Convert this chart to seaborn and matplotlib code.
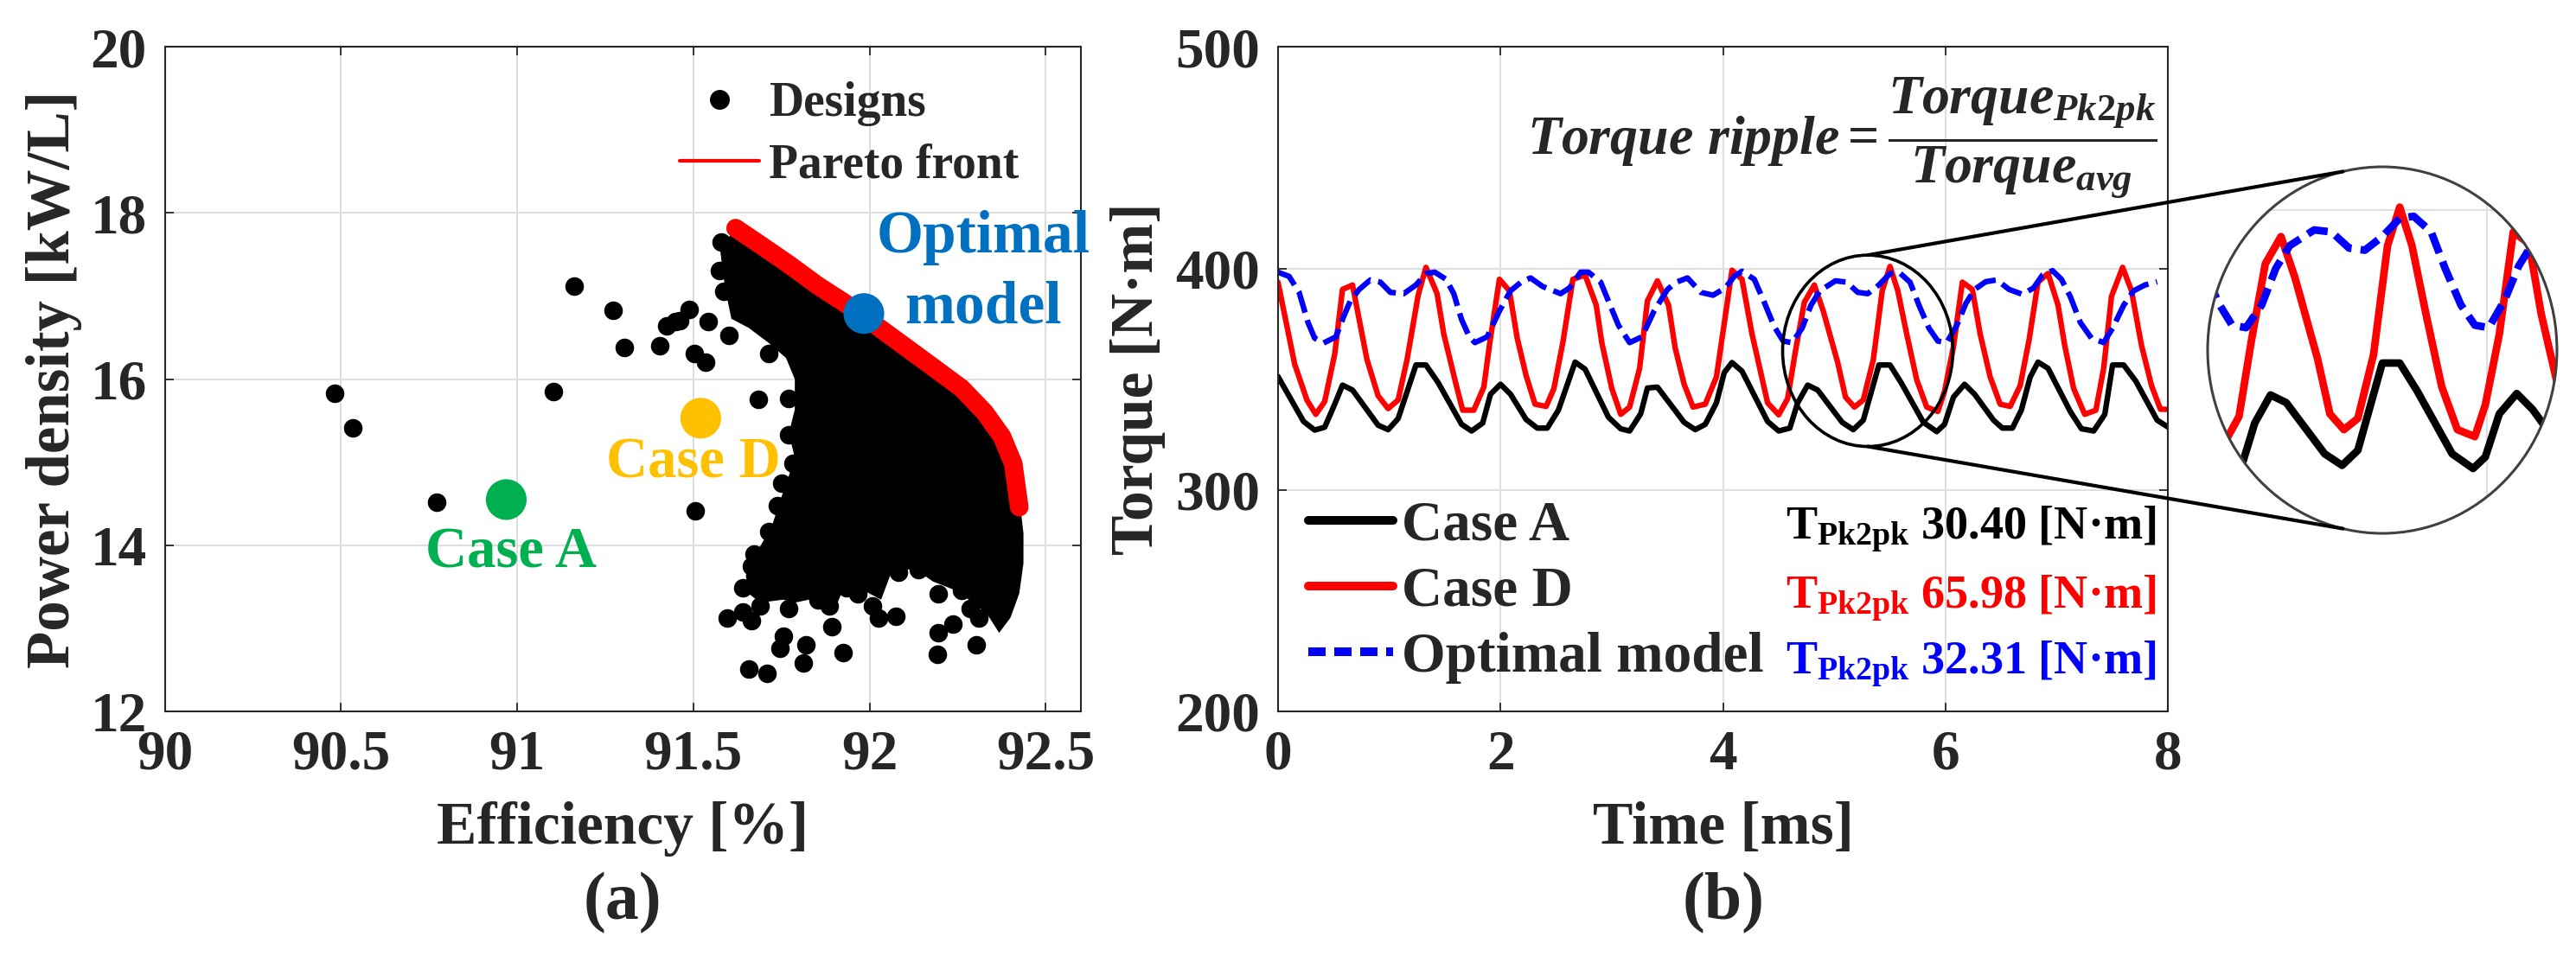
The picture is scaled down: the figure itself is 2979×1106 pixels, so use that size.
# -*- coding: utf-8 -*-
import numpy as np
import pandas as pd
import matplotlib.pyplot as plt
import seaborn as sns
from matplotlib.lines import Line2D
from matplotlib.patches import Ellipse, ConnectionPatch

sns.set_style("whitegrid")
plt.rcParams['font.family'] = ['Liberation Serif', 'DejaVu Serif']
plt.rcParams['font.weight'] = 'bold'
plt.rcParams['mathtext.fontset'] = 'custom'
plt.rcParams['mathtext.rm'] = 'Liberation Serif:bold'
plt.rcParams['mathtext.it'] = 'Liberation Serif:italic:bold'
plt.rcParams['mathtext.bf'] = 'Liberation Serif:bold'
plt.rcParams['axes.edgecolor'] = '#262626'
plt.rcParams['axes.linewidth'] = 1.5
plt.rcParams['grid.color'] = '#DEDEDE'
plt.rcParams['grid.linewidth'] = 1.4

# ---------------- (a) design space ----------------
# scattered designs (efficiency %, power density kW/L)
designs_eff = [90.481, 90.534, 90.772, 91.161, 91.104, 91.271, 91.305, 91.405, 91.424, 91.448,
               91.579, 91.575, 91.587, 91.489, 91.542, 91.461, 91.600, 91.502, 91.534, 91.714,
               91.685, 91.771, 91.771, 91.783, 91.853, 91.751, 91.828, 91.739, 91.820, 91.714,
               91.788, 91.869, 91.673, 91.755, 91.828, 91.665, 91.641, 91.714, 91.788, 91.869,
               91.690, 91.771, 91.853, 91.935, 91.596, 91.641, 91.665, 91.755, 91.747, 91.820,
               91.812, 91.926, 91.894, 91.886, 91.967, 92.008, 92.025, 92.074, 91.657, 91.710,
               91.506, 92.196, 92.261, 92.196, 92.237, 92.192, 92.302, 92.310, 92.286, 92.016,
               92.082, 92.139, 91.967, 91.902, 91.951]
designs_pd = [15.83, 15.41, 14.52, 17.12, 15.85, 16.83, 16.38, 16.40, 16.64, 16.69,
              17.655, 17.309, 17.055, 16.836, 16.691, 16.709, 16.527, 16.309, 16.200, 16.309,
              15.753, 15.764, 15.327, 14.982, 14.982, 14.745, 14.800, 14.473, 14.473, 14.164,
              14.145, 14.182, 13.891, 13.891, 13.855, 13.745, 13.491, 13.491, 13.636, 13.673,
              13.273, 13.236, 13.345, 13.491, 13.127, 13.200, 13.091, 12.909, 12.764, 12.800,
              12.582, 12.709, 13.018, 13.273, 13.418, 13.273, 13.127, 13.145, 12.509, 12.455,
              14.418, 13.418, 13.455, 12.945, 13.055, 12.691, 12.800, 13.127, 13.236, 13.745,
              13.673, 13.709, 13.600, 13.927, 13.855]

# outline of the dense (overlapping) part of the design cloud
core_eff = [91.608, 91.690, 91.771, 91.853, 91.935, 92.016, 92.098, 92.180, 92.261, 92.327,
            92.376, 92.408, 92.425, 92.437, 92.437, 92.425, 92.400, 92.368,
            92.335, 92.294, 92.245, 92.180, 92.131, 92.065, 92.033, 91.984, 91.935, 91.902,
            91.869, 91.828, 91.788, 91.755, 91.690, 91.657, 91.649, 91.681, 91.722, 91.747,
            91.771, 91.788, 91.771, 91.788, 91.788, 91.763, 91.714, 91.657, 91.608, 91.592,
            91.583, 91.575]
core_pd = [17.745, 17.564, 17.327, 17.073, 16.873, 16.600, 16.345, 16.091, 15.836, 15.545,
           15.255, 14.945, 14.582, 14.145, 13.782, 13.418, 13.127, 12.945,
           13.164, 13.309, 13.455, 13.564, 13.709, 13.709, 13.345, 13.455, 13.564, 13.236,
           13.236, 13.345, 13.309, 13.345, 13.309, 13.418, 13.636, 13.927, 14.218, 14.545,
           14.836, 15.055, 15.345, 15.636, 16.000, 16.255, 16.436, 16.618, 16.727, 17.055,
           17.309, 17.600]

pareto_eff = [91.620, 91.690, 91.771, 91.853, 91.926, 92.016, 92.098, 92.180, 92.261,
              92.327, 92.376, 92.408, 92.425, 92.425]
pareto_pd = [17.818, 17.618, 17.382, 17.127, 16.927, 16.655, 16.400, 16.145, 15.891,
             15.600, 15.309, 14.982, 14.618, 14.300]

case_names = ['Case A', 'Case D', 'Optimal model']
case_eff = [90.969, 91.521, 91.984]
case_pd = [14.55, 15.53, 16.79]
case_colors = ['#00B050', '#FFC000', '#0070C0']

# ---------------- (b) torque waveforms ----------------
t_a = [0.0, 0.23, 0.33, 0.42, 0.51, 0.58, 0.67, 0.90, 0.99, 1.08,
       1.24, 1.33, 1.44, 1.65, 1.74, 1.84, 1.91, 2.0, 2.09, 2.23,
       2.33, 2.42, 2.52, 2.61, 2.67, 2.76, 2.97, 3.08, 3.16, 3.26,
       3.32, 3.41, 3.65, 3.75, 3.84, 3.94, 4.01, 4.08, 4.17, 4.40,
       4.50, 4.60, 4.67, 4.76, 4.85, 5.07, 5.17, 5.26, 5.40, 5.50,
       5.60, 5.80, 5.92, 5.99, 6.07, 6.17, 6.26, 6.43, 6.51, 6.60,
       6.68, 6.76, 6.83, 6.92, 7.12, 7.22, 7.33, 7.43, 7.50, 7.60,
       7.71, 7.90, 8.0]
torque_a = [351.2, 330.9, 327.0, 328.3, 338.7, 347.3, 345.1, 329.2, 327.2, 332.2,
            356.4, 356.4, 348.4, 329.6, 326.6, 330.2, 343.2, 347.7, 343.2, 331.8,
            327.9, 327.9, 336.0, 349.0, 357.7, 354.5, 332.8, 327.6, 326.6, 334.4,
            346.0, 346.4, 330.5, 327.2, 329.6, 339.3, 352.9, 357.5, 353.6, 330.9,
            326.6, 327.9, 339.3, 347.3, 345.1, 330.5, 327.2, 331.5, 356.4, 356.4,
            348.4, 330.5, 326.3, 329.6, 341.9, 347.7, 343.2, 331.5, 327.9, 327.9,
            336.0, 351.0, 357.7, 354.9, 335.4, 327.6, 326.6, 334.1, 356.4, 356.4,
            349.0, 331.5, 328.3]

t_d = [0.0, 0.15, 0.26, 0.34, 0.42, 0.51, 0.58, 0.67, 0.80, 0.90,
       0.99, 1.08, 1.16, 1.26, 1.33, 1.43, 1.49, 1.60, 1.66, 1.76,
       1.85, 1.90, 1.99, 2.08, 2.15, 2.23, 2.31, 2.41, 2.48, 2.56,
       2.65, 2.76, 2.86, 2.91, 3.00, 3.08, 3.16, 3.25, 3.32, 3.41,
       3.51, 3.57, 3.65, 3.73, 3.84, 3.94, 4.01, 4.08, 4.17, 4.26,
       4.40, 4.50, 4.58, 4.65, 4.73, 4.82, 4.90, 5.03, 5.10, 5.18,
       5.26, 5.35, 5.43, 5.50, 5.57, 5.65, 5.74, 5.83, 5.93, 5.99,
       6.07, 6.15, 6.24, 6.31, 6.40, 6.49, 6.58, 6.67, 6.75, 6.83,
       6.92, 7.01, 7.07, 7.15, 7.25, 7.35, 7.42, 7.49, 7.59, 7.67,
       7.76, 7.85, 7.93, 8.0]
torque_d = [393.8, 356.8, 340.6, 334.1, 339.9, 361.3, 390.5, 392.5, 358.8, 342.5,
            336.7, 340.6, 358.8, 387.9, 400.5, 388.6, 370.4, 347.7, 336.0, 336.0,
            346.4, 365.2, 395.1, 389.9, 368.5, 351.6, 338.7, 337.7, 345.8, 366.5,
            395.1, 397.0, 383.4, 366.5, 345.8, 334.1, 337.4, 354.9, 385.3, 394.4,
            383.4, 363.9, 347.7, 337.4, 338.7, 351.0, 375.0, 399.2, 395.1, 370.4,
            339.3, 333.9, 341.2, 362.6, 384.7, 392.5, 380.8, 357.5, 341.9, 337.4,
            340.6, 358.8, 389.9, 400.9, 389.9, 370.4, 349.7, 337.4, 335.4, 344.5,
            364.6, 393.8, 390.5, 370.4, 351.0, 338.7, 337.7, 347.1, 367.8, 393.8,
            397.7, 383.4, 365.2, 345.8, 334.1, 336.0, 354.9, 387.3, 400.5, 389.9,
            365.2, 347.1, 336.4, 336.4]

t_opt = [0.0, 0.10, 0.19, 0.27, 0.33, 0.41, 0.52, 0.59, 0.65, 0.73,
         0.83, 0.92, 1.01, 1.13, 1.24, 1.33, 1.41, 1.51, 1.58, 1.65,
         1.72, 1.77, 1.88, 1.99, 2.09, 2.19, 2.27, 2.38, 2.54, 2.62,
         2.72, 2.79, 2.90, 2.98, 3.06, 3.16, 3.27, 3.38, 3.50, 3.58,
         3.68, 3.80, 3.91, 4.02, 4.10, 4.17, 4.28, 4.37, 4.46, 4.54,
         4.62, 4.71, 4.79, 4.87, 5.01, 5.11, 5.21, 5.30, 5.40, 5.50,
         5.58, 5.68, 5.76, 5.85, 5.93, 6.01, 6.10, 6.18, 6.26, 6.36,
         6.46, 6.57, 6.69, 6.79, 6.87, 6.96, 7.04, 7.12, 7.21, 7.31,
         7.42, 7.50, 7.60, 7.69, 7.79, 7.90]
torque_opt = [398.3, 396.4, 389.2, 375.6, 368.5, 366.3, 369.1, 378.2, 385.3, 390.5,
              394.8, 393.8, 389.2, 388.6, 392.5, 397.7, 398.3, 395.1, 388.6, 376.9,
              369.1, 366.5, 369.1, 380.8, 389.9, 394.0, 395.7, 391.8, 388.6, 391.2,
              398.3, 398.3, 393.8, 384.0, 374.3, 366.5, 369.1, 380.8, 390.5, 393.8,
              395.7, 389.2, 387.9, 391.2, 396.4, 398.7, 395.1, 384.7, 373.7, 367.2,
              366.5, 373.0, 383.4, 389.9, 394.4, 393.8, 389.2, 388.6, 392.5, 397.7,
              398.3, 393.8, 383.4, 373.0, 367.2, 366.5, 374.3, 384.0, 390.5, 394.0,
              394.8, 390.5, 388.3, 391.2, 397.0, 399.0, 395.1, 387.3, 375.6, 368.5,
              366.5, 373.0, 383.4, 389.9, 392.5, 394.0]

pk2pk = ['30.40', '65.98', '32.31']
wave_colors = ['black', 'red', 'blue']

# zoom window (centre, full width/height) and the magnified view limits
zoom_t, zoom_y, zoom_w, zoom_h = 5.30, 362.8, 1.53, 86.4
inset_xlim = (4.40, 6.40)
inset_ylim = (307.8, 412.4)

fig = plt.figure(figsize=(29.79, 11.06), dpi=100)
ax_a = fig.add_axes([0.0640, 0.2559, 0.3556, 0.6950])
ax_b = fig.add_axes([0.4961, 0.2559, 0.3456, 0.6950])
ax_in = fig.add_axes([0.8570, 0.4421, 0.1356, 0.3834])


def style_axes(ax):
    ax.grid(True, color='#DEDEDE', lw=1.4)
    for sp in ax.spines.values():
        sp.set_visible(True)
        sp.set_color('#262626')
        sp.set_linewidth(1.5)
    ax.tick_params(direction='in', length=7, width=1.3, top=True, right=True,
                   bottom=True, left=True, labelsize=47, pad=15, color='#262626')
    for lab in ax.get_xticklabels() + ax.get_yticklabels():
        lab.set_fontweight('bold')


# ---- (a)
ax_a.fill(core_eff, core_pd, color='black', lw=0, zorder=2)
sns.scatterplot(x=designs_eff, y=designs_pd, color='black', s=240, linewidth=0,
                ax=ax_a, zorder=3, legend=False)
sns.lineplot(x=pareto_eff, y=pareto_pd, sort=False, color='red', lw=15.5,
             solid_capstyle='round', ax=ax_a, zorder=4)
sns.scatterplot(x=case_eff, y=case_pd, hue=case_names, palette=case_colors,
                s=1150, linewidth=0, ax=ax_a, zorder=5, legend=False)

ax_a.set_xlim(90, 92.6)
ax_a.set_ylim(12, 20)
ax_a.set_xticks([90, 90.5, 91, 91.5, 92, 92.5])
ax_a.set_xticklabels(['90', '90.5', '91', '91.5', '92', '92.5'])
ax_a.set_yticks([12, 14, 16, 18, 20])
style_axes(ax_a)
ax_a.set_xlabel('Efficiency [%]', fontsize=50, fontweight='bold')
ax_a.set_ylabel('Power density [kW/L]', fontsize=51, fontweight='bold')
ax_a.xaxis.set_label_coords(0.5, -0.135)
ax_a.yaxis.set_label_coords(-0.09, 0.5)
ax_a.text(0.5, -0.289, '(a)', transform=ax_a.transAxes, ha='center', va='center',
          fontsize=56, fontweight='bold')

ax_a.text(92.323, 17.70, 'Optimal', color=case_colors[2], ha='center', va='center',
          fontsize=50, fontweight='bold')
ax_a.text(92.323, 16.86, 'model', color=case_colors[2], ha='center', va='center',
          fontsize=50, fontweight='bold')
ax_a.text(91.501, 14.99, 'Case D', color=case_colors[1], ha='center', va='center',
          fontsize=48, fontweight='bold')
ax_a.text(90.982, 13.905, 'Case A', color=case_colors[0], ha='center', va='center',
          fontsize=48, fontweight='bold')

h_a = [Line2D([], [], marker='o', color='black', ls='none', markersize=15.5),
       Line2D([], [], color='red', lw=3)]
ax_a.legend(h_a, ['Designs', 'Pareto front'], loc='upper left',
            bbox_to_anchor=(0.562, 0.948), frameon=False,
            handlelength=1.65, handletextpad=0.2, labelspacing=0.35,
            borderpad=0, borderaxespad=0, prop={'weight': 'bold', 'size': 40})

# ---- (b)
series = [(t_a, torque_a), (t_d, torque_d), (t_opt, torque_opt)]
for ax, lw in [(ax_b, 4.6), (ax_in, 6.3)]:
    for (tt, qq), c, name in zip(series, wave_colors, case_names):
        sns.lineplot(x=tt, y=qq, color=c, lw=lw, ax=ax, label=name, legend=False)
    if ax is ax_b:
        ax.lines[-1].set_dashes([4.0, 1.4])
    else:
        ax.lines[-1].set_dashes([2.8, 1.2])

ax_b.set_xlim(0, 8)
ax_b.set_ylim(200, 500)
ax_b.set_xticks([0, 2, 4, 6, 8])
ax_b.set_yticks([200, 300, 400, 500])
style_axes(ax_b)
ax_b.set_xlabel('Time [ms]', fontsize=50, fontweight='bold')
ax_b.set_ylabel('Torque [N·m]', fontsize=50, fontweight='bold')
ax_b.xaxis.set_label_coords(0.5, -0.135)
ax_b.yaxis.set_label_coords(-0.126, 0.5)
ax_b.text(0.5, -0.289, '(b)', transform=ax_b.transAxes, ha='center', va='center',
          fontsize=56, fontweight='bold')

ax_b.text(0.28, 0.864, r'$Torque\ ripple = \dfrac{Torque_{Pk2pk}}{Torque_{avg}}$',
          transform=ax_b.transAxes, ha='left', va='center', fontsize=46)

# legend handles are drawn heavier than the curves, as in the original
h_b = [Line2D([], [], color=c, lw=7.2) for c in wave_colors]
h_b[2].set_dashes([2.0, 1.0])
ax_b.legend(handles=h_b, labels=case_names, loc='upper left',
            bbox_to_anchor=(0.034, 0.318), frameon=False,
            handlelength=1.5, handletextpad=0.15, labelspacing=0.25,
            borderpad=0, borderaxespad=0, prop={'weight': 'bold', 'size': 47})

for val, c, yy in zip(pk2pk, wave_colors, [0.26, 0.156, 0.056]):
    ax_b.text(0.986, yy, r'$\mathbf{T}_{\mathbf{Pk2pk}}$ ' + val + ' [N·m]',
              transform=ax_b.transAxes, ha='right', va='baseline', color=c,
              fontsize=39, fontweight='bold')

# zoom marker on (b)
ax_b.add_patch(Ellipse((zoom_t, zoom_y), zoom_w, zoom_h, fill=False, ec='black',
                       lw=2.6, zorder=6))

# magnified view
ax_in.set_xlim(*inset_xlim)
ax_in.set_ylim(*inset_ylim)
ax_in.set_xticks([6])
ax_in.set_yticks([400])
ax_in.tick_params(length=0, labelbottom=False, labelleft=False)
ax_in.grid(True, color='#DEDEDE', lw=1.4)
for sp in ax_in.spines.values():
    sp.set_visible(False)
ax_in.patch.set_alpha(0)
clip = Ellipse((0.5, 0.5), 1.0, 1.0, transform=ax_in.transAxes)
for art in ax_in.lines + ax_in.get_xgridlines() + ax_in.get_ygridlines():
    art.set_clip_path(clip)
ax_in.add_patch(Ellipse((0.5, 0.5), 1.0, 1.0, transform=ax_in.transAxes, fill=False,
                        ec='#404040', lw=2.2, zorder=10, clip_on=False))

for ang, dy in [(103, 0.5), (-103, -0.5)]:
    a = np.radians(ang)
    con = ConnectionPatch(xyA=(zoom_t, zoom_y + dy * zoom_h), coordsA=ax_b.transData,
                          xyB=(0.5 + 0.5 * np.cos(a), 0.5 + 0.5 * np.sin(a)),
                          coordsB=ax_in.transAxes, color='black', lw=3)
    fig.add_artist(con)

fig.savefig('out.png', dpi=100)
